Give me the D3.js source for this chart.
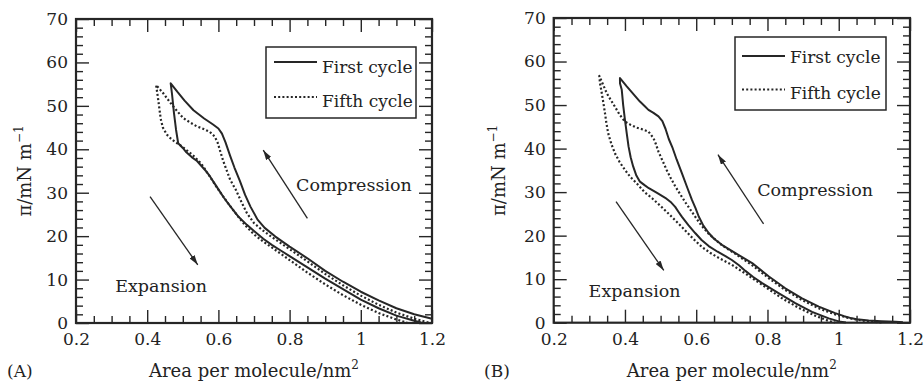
<!DOCTYPE html>
<html><head><meta charset="utf-8">
<script src="https://cdn.jsdelivr.net/npm/d3@7"></script>
<style>
html,body{margin:0;padding:0;background:#fff;}
svg text{font-family:"DejaVu Serif",serif;fill:#222;}
</style></head>
<body><svg id="chart" width="924" height="385"></svg>
<script>
// ---------- data ----------
const xTickValues = [0.2, 0.4, 0.6, 0.8, 1, 1.2];
const yTickValues = [0, 10, 20, 30, 40, 50, 60, 70];
const seriesNames = ["First cycle", "Fifth cycle"];
const panelLabels = ["(A)", "(B)"];
const xTitle = "Area per molecule/nm";
const xTitleSup = "2";
const yTitle = "π/mN m";
const yTitleSup = "−1";
const annotationTexts = ["Compression", "Expansion"];

// Panel A, first cycle (compression then expansion), [area, pressure]
const firstA = [[1.2,1.0],[1.15,2.0],[1.1,3.4],[1.05,5.2],[1.0,7.2],[0.95,9.5],[0.9,12.0],[0.85,14.9],[0.8,17.6],[0.76,19.9],[0.73,21.9],[0.71,23.8],[0.69,26.8],[0.675,29.5],[0.66,32.8],[0.645,35.8],[0.633,38.5],[0.62,41.6],[0.61,43.6],[0.6,44.8],[0.585,45.7],[0.56,47.1],[0.53,49.0],[0.505,51.2],[0.485,53.2],[0.466,55.2],
  [0.47,52.5],[0.475,48.5],[0.481,44.5],[0.487,41.4],[0.5,40.3],[0.51,39.3],[0.525,38.2],[0.54,37.3],[0.553,36.1],[0.565,35.0],[0.576,33.8],[0.595,31.4],[0.615,28.9],[0.633,26.9],[0.655,24.6],[0.68,22.6],[0.7,21.2],[0.726,19.4],[0.75,18.0],[0.775,16.7],[0.8,15.4],[0.85,12.8],[0.9,10.2],[0.95,7.8],[1.0,5.4],[1.05,3.4],[1.1,1.7],[1.15,0.5],[1.17,0.1]];
// Panel A, fifth cycle
const fifthA = [[1.19,0.1],[1.15,1.0],[1.1,2.4],[1.05,4.2],[1.0,6.3],[0.95,8.7],[0.9,11.3],[0.85,14.2],[0.8,17.0],[0.75,19.8],[0.72,21.6],[0.7,23.0],[0.68,25.3],[0.665,27.8],[0.65,30.5],[0.633,33.0],[0.623,35.2],[0.614,37.2],[0.605,39.6],[0.598,41.5],[0.59,42.9],[0.576,44.0],[0.555,44.8],[0.539,45.3],[0.52,46.2],[0.501,47.2],[0.485,48.7],[0.469,50.3],[0.455,51.8],[0.445,52.9],[0.425,54.8],
  [0.43,52.0],[0.434,49.5],[0.438,47.0],[0.444,45.0],[0.455,43.4],[0.466,42.5],[0.478,41.7],[0.492,41.0],[0.506,40.1],[0.52,39.2],[0.534,38.2],[0.548,37.0],[0.558,36.0],[0.567,34.8],[0.576,33.7],[0.6,30.7],[0.625,27.8],[0.65,25.1],[0.675,22.5],[0.7,20.4],[0.725,18.8],[0.75,17.4],[0.8,14.5],[0.85,11.6],[0.9,8.9],[0.95,6.4],[1.0,4.2],[1.05,2.3],[1.1,0.8],[1.13,0.1]];
// Panel B, first cycle
const firstB = [[1.18,0.1],[1.159,0.2],[1.12,0.35],[1.084,0.5],[1.05,0.8],[1.037,1.0],[1.015,1.5],[0.99,2.2],[0.944,3.7],[0.897,5.6],[0.85,7.9],[0.804,10.6],[0.757,13.7],[0.73,15.0],[0.71,16.0],[0.672,17.9],[0.65,19.3],[0.635,20.6],[0.62,22.3],[0.607,24.4],[0.598,26.3],[0.588,28.2],[0.575,31.0],[0.56,34.3],[0.545,37.5],[0.533,40.3],[0.523,42.2],[0.514,44.5],[0.505,46.3],[0.494,47.4],[0.48,48.2],[0.466,48.9],[0.455,49.8],[0.442,50.8],[0.425,52.4],[0.405,54.3],[0.386,56.2],
  [0.386,55.0],[0.391,53.5],[0.395,50.0],[0.4,46.6],[0.405,43.5],[0.41,40.5],[0.416,38.0],[0.423,35.9],[0.432,33.8],[0.442,32.4],[0.455,31.6],[0.467,30.9],[0.49,29.8],[0.513,28.7],[0.53,27.6],[0.541,26.6],[0.55,25.5],[0.56,24.3],[0.578,22.4],[0.597,20.6],[0.615,19.0],[0.635,17.6],[0.66,16.3],[0.682,15.3],[0.7,14.4],[0.72,13.2],[0.738,11.9],[0.76,10.5],[0.785,9.1],[0.831,6.8],[0.878,4.5],[0.925,2.5],[0.972,1.0],[1.0,0.3],[1.02,0.05]];
// Panel B, fifth cycle
const fifthB = [[1.12,0.05],[1.08,0.3],[1.037,0.9],[0.99,1.9],[0.944,3.3],[0.897,5.2],[0.85,7.5],[0.804,10.2],[0.757,13.2],[0.71,15.8],[0.672,17.8],[0.635,20.4],[0.615,22.3],[0.6,24.0],[0.585,25.8],[0.57,27.6],[0.555,29.5],[0.54,31.5],[0.528,33.3],[0.517,35.1],[0.505,37.3],[0.494,39.3],[0.487,41.0],[0.48,42.4],[0.466,43.9],[0.45,44.4],[0.433,44.8],[0.415,45.5],[0.4,46.2],[0.385,47.8],[0.372,49.6],[0.36,51.2],[0.349,52.7],[0.338,54.8],[0.328,56.7],
  [0.33,55.0],[0.335,52.7],[0.34,50.2],[0.344,48.1],[0.348,45.8],[0.353,43.5],[0.362,41.0],[0.372,38.9],[0.385,36.9],[0.4,35.1],[0.415,33.5],[0.433,32.0],[0.455,30.0],[0.476,28.6],[0.5,26.8],[0.523,25.0],[0.545,23.2],[0.569,21.2],[0.59,19.4],[0.616,17.4],[0.64,16.0],[0.663,14.9],[0.7,13.3],[0.747,10.8],[0.794,8.2],[0.841,5.6],[0.888,3.4],[0.934,1.6],[0.972,0.4],[0.99,0.05]];

// annotation anchors in data units: [labelX, labelY, arrowTailX, arrowTailY, arrowTipX, arrowTipY]
const annotA = [[0.818,30.3,0.85,24.1,0.726,39.8],[0.31,7.1,0.408,29.1,0.542,13.4]];
const annotB = [[0.771,29.0,0.789,22.7,0.661,38.6],[0.298,6.0,0.375,27.8,0.509,12.0]];

// ---------- layout ----------
const ink = "#262626";
const svg = d3.select("#chart");
svg.append("defs").append("marker")
  .attr("id","ah").attr("markerUnits","userSpaceOnUse")
  .attr("viewBox","0 0 10 6").attr("refX",10).attr("refY",3)
  .attr("markerWidth",10).attr("markerHeight",6).attr("orient","auto")
  .append("path").attr("d","M0,0 L10,3 L0,6 Z").attr("fill",ink);

const panels = [
  {left:76, right:432, top:19, bottom:323, first:firstA, fifth:fifthA, label:panelLabels[0], labelX:7,
   legend:{x:266,y:47,w:150,h:71, lx1:274, lx2:317, tx:322, y1:62, y2:97, b1:72.5, b2:106.5}, annot:annotA, ytX:31},
  {left:553.7, right:910, top:18, bottom:322.7, first:firstB, fifth:fifthB, label:panelLabels[1], labelX:484,
   legend:{x:735,y:37,w:151,h:73, lx1:742, lx2:785, tx:790, y1:56, y2:89.5, b1:63.3, b2:99.3}, annot:annotB, ytX:505}
];

panels.forEach(p => {
  const x = d3.scaleLinear().domain([0.2,1.2]).range([p.left,p.right]);
  const y = d3.scaleLinear().domain([0,70]).range([p.bottom,p.top]);
  const g = svg.append("g");
  const minorX = d3.range(5,24).filter(i => i % 4 !== 0).map(i => +(i*0.05).toFixed(2));
  const minorY = d3.range(1,35).filter(i => i % 5 !== 0).map(i => i*2);
  const MAJ = 13, MIN = 7;

  function axisGroup(axis, tx, ty) {
    const a = g.append("g").attr("transform",`translate(${tx},${ty})`).call(axis);
    a.select(".domain").remove();
    a.selectAll("line").attr("stroke",ink).attr("stroke-width",1.4);
    a.selectAll("text").style("font-family","DejaVu Serif").style("font-size","17px").attr("fill","#222");
    return a;
  }
  // bottom
  axisGroup(d3.axisBottom(x).tickValues(xTickValues).tickSizeInner(-MAJ).tickSizeOuter(0).tickPadding(10).tickFormat(d=>String(d)), 0, p.bottom);
  axisGroup(d3.axisBottom(x).tickValues(minorX).tickSizeInner(-MIN).tickSizeOuter(0).tickFormat(""), 0, p.bottom);
  // top
  axisGroup(d3.axisTop(x).tickValues(xTickValues).tickSizeInner(-MAJ).tickSizeOuter(0).tickFormat(""), 0, p.top);
  axisGroup(d3.axisTop(x).tickValues(minorX).tickSizeInner(-MIN).tickSizeOuter(0).tickFormat(""), 0, p.top);
  // left
  axisGroup(d3.axisLeft(y).tickValues(yTickValues).tickSizeInner(-MAJ).tickSizeOuter(0).tickPadding(8).tickFormat(d=>String(d)), p.left, 0);
  axisGroup(d3.axisLeft(y).tickValues(minorY).tickSizeInner(-MIN).tickSizeOuter(0).tickFormat(""), p.left, 0);
  // right
  axisGroup(d3.axisRight(y).tickValues(yTickValues).tickSizeInner(-MAJ).tickSizeOuter(0).tickFormat(""), p.right, 0);
  axisGroup(d3.axisRight(y).tickValues(minorY).tickSizeInner(-MIN).tickSizeOuter(0).tickFormat(""), p.right, 0);

  // frame
  g.append("rect").attr("x",p.left).attr("y",p.top).attr("width",p.right-p.left).attr("height",p.bottom-p.top)
    .attr("fill","none").attr("stroke",ink).attr("stroke-width",2.2);

  // curves
  const line = d3.line().x(d=>x(d[0])).y(d=>y(d[1])).curve(d3.curveLinear);
  g.append("path").attr("d",line(p.fifth)).attr("fill","none").attr("stroke",ink)
    .attr("stroke-width",2.2).attr("stroke-dasharray","2,2.2").attr("stroke-linejoin","round");
  g.append("path").attr("d",line(p.first)).attr("fill","none").attr("stroke",ink)
    .attr("stroke-width",2).attr("stroke-linejoin","round");

  // legend
  const L = p.legend;
  g.append("rect").attr("x",L.x).attr("y",L.y).attr("width",L.w).attr("height",L.h)
    .attr("fill","#fff").attr("stroke",ink).attr("stroke-width",1.5);
  g.append("line").attr("x1",L.lx1).attr("x2",L.lx2).attr("y1",L.y1).attr("y2",L.y1).attr("stroke",ink).attr("stroke-width",2);
  g.append("line").attr("x1",L.lx1).attr("x2",L.lx2).attr("y1",L.y2).attr("y2",L.y2).attr("stroke",ink).attr("stroke-width",2.2).attr("stroke-dasharray","2,2.2");
  g.append("text").attr("x",L.tx).attr("y",L.b1).style("font-size","17px").text(seriesNames[0]);
  g.append("text").attr("x",L.tx).attr("y",L.b2).style("font-size","17px").text(seriesNames[1]);

  // annotations
  p.annot.forEach((a,i) => {
    g.append("line").attr("x1",x(a[2])).attr("y1",y(a[3])).attr("x2",x(a[4])).attr("y2",y(a[5]))
      .attr("stroke",ink).attr("stroke-width",1.3).attr("marker-end","url(#ah)");
    g.append("text").attr("x",x(a[0])).attr("y",y(a[1])).style("font-size","17.5px").text(annotationTexts[i]);
  });

  // axis titles
  const xt = g.append("text").attr("x",(p.left+p.right)/2).attr("y",377).attr("text-anchor","middle").style("font-size","18px");
  xt.append("tspan").text(xTitle);
  xt.append("tspan").attr("dy",-8).style("font-size","12px").text(xTitleSup);
  const yt = g.append("text").attr("transform",`translate(${p.ytX},${(p.top+p.bottom)/2}) rotate(-90)`)
    .attr("text-anchor","middle").style("font-size","18px");
  yt.append("tspan").text(yTitle);
  yt.append("tspan").attr("dy",-8).style("font-size","12px").text(yTitleSup);

  g.append("text").attr("x",p.labelX).attr("y",377).style("font-size","17px").text(p.label);
});
</script></body></html>
